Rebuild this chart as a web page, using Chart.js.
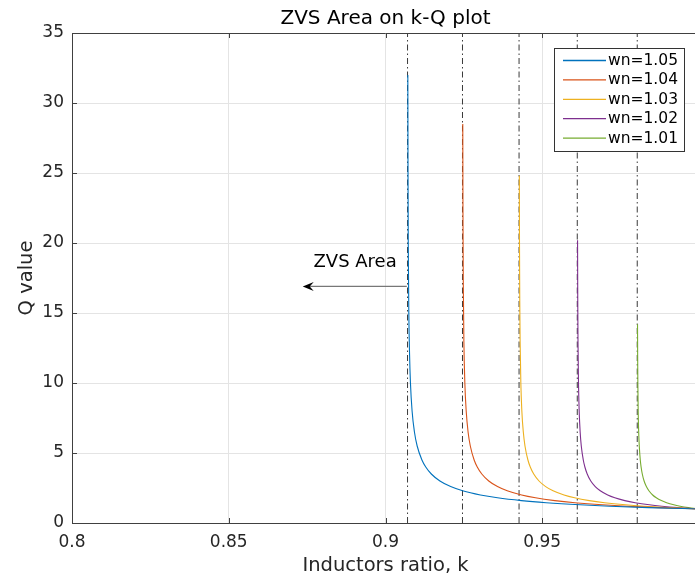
<!DOCTYPE html>
<html>
<head>
<meta charset="utf-8">
<script src="https://cdn.jsdelivr.net/npm/chart.js@4.4.0/dist/chart.umd.min.js"></script>
<style>
html, body { margin: 0; padding: 0; background: #fff; overflow: hidden; }
canvas { display: block; }
</style>
</head>
<body>
<canvas id="kq" width="720" height="579"></canvas>
<script>
// values
var seriesLabels = ['wn=1.05', 'wn=1.04', 'wn=1.03', 'wn=1.02', 'wn=1.01'];
var seriesColors = ['#0072BD', '#D95319', '#EDB120', '#7E2F8E', '#77AC30'];

var k105 = [0.90712, 0.90718, 0.90726, 0.90744, 0.90768, 0.90796, 0.90848, 0.90923, 0.91010, 0.91162, 0.91284, 0.91462, 0.91736, 0.92078, 0.92460, 0.93027, 0.93572, 0.94335, 0.95125, 0.96204, 0.97159, 0.98386, 1.0];
var q105 = [32, 25, 20, 15, 12, 10, 8, 6.5, 5.5, 4.5, 4, 3.5, 3, 2.6, 2.3, 2, 1.8, 1.6, 1.45, 1.3, 1.2, 1.1, 1.0];

var k104 = [0.92465, 0.92471, 0.92482, 0.92500, 0.92531, 0.92574, 0.92634, 0.92705, 0.92828, 0.92927, 0.93072, 0.93294, 0.93572, 0.93882, 0.94342, 0.94784, 0.95403, 0.96044, 0.96920, 0.97695, 0.98691, 1.0];
var q104 = [28.5, 22, 17, 13, 10, 8, 6.5, 5.5, 4.5, 4, 3.5, 3, 2.6, 2.3, 2, 1.8, 1.6, 1.45, 1.3, 1.2, 1.1, 1.0];

var k103 = [0.94269, 0.94274, 0.94282, 0.94294, 0.94317, 0.94349, 0.94396, 0.94449, 0.94543, 0.94618, 0.94728, 0.94897, 0.95109, 0.95345, 0.95695, 0.96031, 0.96502, 0.96990, 0.97656, 0.98246, 0.99004, 1.0];
var q103 = [24.8, 20, 16, 13, 10, 8, 6.5, 5.5, 4.5, 4, 3.5, 3, 2.6, 2.3, 2, 1.8, 1.6, 1.45, 1.3, 1.2, 1.1, 1.0];

var k102 = [0.96126, 0.96132, 0.96140, 0.96156, 0.96178, 0.96209, 0.96245, 0.96309, 0.96360, 0.96434, 0.96548, 0.96691, 0.96851, 0.97088, 0.97315, 0.97634, 0.97964, 0.98415, 0.98814, 0.99326, 1.0];
var q102 = [20.2, 16, 13, 10, 8, 6.5, 5.5, 4.5, 4, 3.5, 3, 2.6, 2.3, 2, 1.8, 1.6, 1.45, 1.3, 1.2, 1.1, 1.0];

var k101 = [0.98039, 0.98043, 0.98049, 0.98060, 0.98076, 0.98095, 0.98127, 0.98153, 0.98191, 0.98249, 0.98321, 0.98402, 0.98522, 0.98638, 0.98799, 0.98967, 0.99196, 0.99398, 0.99658, 1.0];
var q101 = [14.2, 12, 10, 8, 6.5, 5.5, 4.5, 4, 3.5, 3, 2.6, 2.3, 2, 1.8, 1.6, 1.45, 1.3, 1.2, 1.1, 1.0];

// dash-dot boundaries (one per wn) and their vertical span
var boundaryK = [0.90703, 0.92456, 0.94260, 0.96117, 0.98030];
var boundaryQ = [0, 35];

// "ZVS Area" annotation
var arrowFrom = [0.9068, 16.9];
var arrowTo = [0.8736, 16.9];
var zvsText = [0.8903, 18.6];

var titleText = 'ZVS Area on k-Q plot';

var FONT = '"DejaVu Sans", "Liberation Sans", Arial, sans-serif';
var AXIS = '#404040';

function pairs(xs, ys) {
  return xs.map(function (x, i) { return { x: x, y: ys[i] }; });
}

var kSeries = [k105, k104, k103, k102, k101];
var qSeries = [q105, q104, q103, q102, q101];

var datasets = [];
for (var i = 0; i < seriesLabels.length; i++) {
  datasets.push({
    label: seriesLabels[i],
    data: pairs(kSeries[i], qSeries[i]),
    borderColor: seriesColors[i],
    borderWidth: 1.1,
    pointRadius: 0,
    cubicInterpolationMode: 'monotone',
    fill: false
  });
}
boundaryK.forEach(function (k) {
  datasets.push({
    label: '',
    isGuide: true,
    data: boundaryQ.map(function (q) { return { x: k, y: q }; }),
    borderColor: '#3a3a3a',
    borderWidth: 1,
    borderDash: [6, 3, 1.5, 3],
    pointRadius: 0,
    fill: false
  });
});

// title, box, inner ticks, legend and the arrow note
var extras = {
  id: 'extras',
  afterDraw: function (chart) {
    var ctx = chart.ctx, a = chart.chartArea;
    var sx = chart.scales.x, sy = chart.scales.y;
    ctx.save();

    ctx.fillStyle = '#000';
    ctx.font = '20px ' + FONT;
    ctx.textAlign = 'center';
    ctx.textBaseline = 'middle';
    ctx.fillText(titleText, (a.left + a.right) / 2, 19);

    // top and right frame
    ctx.strokeStyle = AXIS;
    ctx.lineWidth = 1;
    ctx.beginPath();
    ctx.moveTo(a.left, a.top + 0.5);
    ctx.lineTo(a.right, a.top + 0.5);
    ctx.moveTo(a.right - 0.5, a.top);
    ctx.lineTo(a.right - 0.5, a.bottom);
    ctx.stroke();

    // inward ticks
    ctx.beginPath();
    sx.ticks.forEach(function (t) {
      var px = Math.round(sx.getPixelForValue(t.value)) + 0.5;
      ctx.moveTo(px, a.bottom); ctx.lineTo(px, a.bottom - 5);
      ctx.moveTo(px, a.top); ctx.lineTo(px, a.top + 5);
    });
    sy.ticks.forEach(function (t) {
      var py = Math.round(sy.getPixelForValue(t.value)) + 0.5;
      ctx.moveTo(a.left, py); ctx.lineTo(a.left + 5, py);
    });
    ctx.stroke();

    // arrow
    var x1 = sx.getPixelForValue(arrowFrom[0]), y1 = sy.getPixelForValue(arrowFrom[1]);
    var x2 = sx.getPixelForValue(arrowTo[0]), y2 = sy.getPixelForValue(arrowTo[1]);
    ctx.strokeStyle = '#777777';
    ctx.lineWidth = 1.3;
    ctx.beginPath();
    ctx.moveTo(x1, y1); ctx.lineTo(x2 + 6, y2);
    ctx.stroke();
    ctx.fillStyle = '#000';
    ctx.beginPath();
    ctx.moveTo(x2, y2);
    ctx.lineTo(x2 + 11, y2 - 4.5);
    ctx.lineTo(x2 + 7, y2);
    ctx.lineTo(x2 + 11, y2 + 4.5);
    ctx.closePath();
    ctx.fill();

    ctx.font = '18px ' + FONT;
    ctx.fillText('ZVS Area', sx.getPixelForValue(zvsText[0]), sy.getPixelForValue(zvsText[1]));

    // legend
    var bx = a.right - 145, by = a.top + 15, bw = 130, bh = 103;
    ctx.fillStyle = '#fff';
    ctx.fillRect(bx, by, bw, bh);
    ctx.strokeStyle = '#333';
    ctx.lineWidth = 1;
    ctx.strokeRect(bx + 0.5, by + 0.5, bw, bh);
    ctx.font = '15.5px ' + FONT;
    ctx.textAlign = 'left';
    var row = 0;
    chart.data.datasets.forEach(function (ds) {
      if (ds.isGuide) return;
      var ly = by + 12.5 + row * 19.4;
      ctx.strokeStyle = ds.borderColor;
      ctx.lineWidth = 1.3;
      ctx.beginPath();
      ctx.moveTo(bx + 9, ly); ctx.lineTo(bx + 52, ly);
      ctx.stroke();
      ctx.fillStyle = '#000';
      ctx.fillText(ds.label, bx + 54, ly + 0.5);
      row++;
    });
    ctx.restore();
  }
};

var chart = new Chart(document.getElementById('kq').getContext('2d'), {
  type: 'line',
  data: { datasets: datasets },
  options: {
    responsive: false,
    animation: false,
    layout: { padding: { left: 0, right: 21, top: 33, bottom: 0 } },
    plugins: {
      legend: { display: false },
      tooltip: { enabled: false },
      title: { display: false }
    },
    scales: {
      x: {
        type: 'linear',
        min: 0.8,
        max: 1.0,
        ticks: {
          stepSize: 0.05,
          color: '#262626',
          font: { family: FONT, size: 17 },
          padding: 9,
          maxRotation: 0,
          callback: function (v) { return String(Number(v.toFixed(2))); }
        },
        grid: { color: '#e4e4e4', drawTicks: false },
        border: { color: AXIS },
        title: {
          display: true,
          text: 'Inductors ratio, k',
          color: '#262626',
          font: { family: FONT, size: 19.5 },
          padding: { top: 0, bottom: 1.3 }
        },
        afterFit: function (s) { s.height = 56; }
      },
      y: {
        min: 0,
        max: 35,
        ticks: {
          stepSize: 5,
          color: '#262626',
          font: { family: FONT, size: 17 },
          padding: 8
        },
        grid: { color: '#e4e4e4', drawTicks: false },
        border: { color: AXIS },
        title: {
          display: true,
          text: 'Q value',
          color: '#262626',
          font: { family: FONT, size: 19.5 },
          padding: { top: 15, bottom: 0 }
        },
        afterFit: function (s) { s.width = 72; }
      }
    }
  },
  plugins: [extras]
});
</script>
</body>
</html>
